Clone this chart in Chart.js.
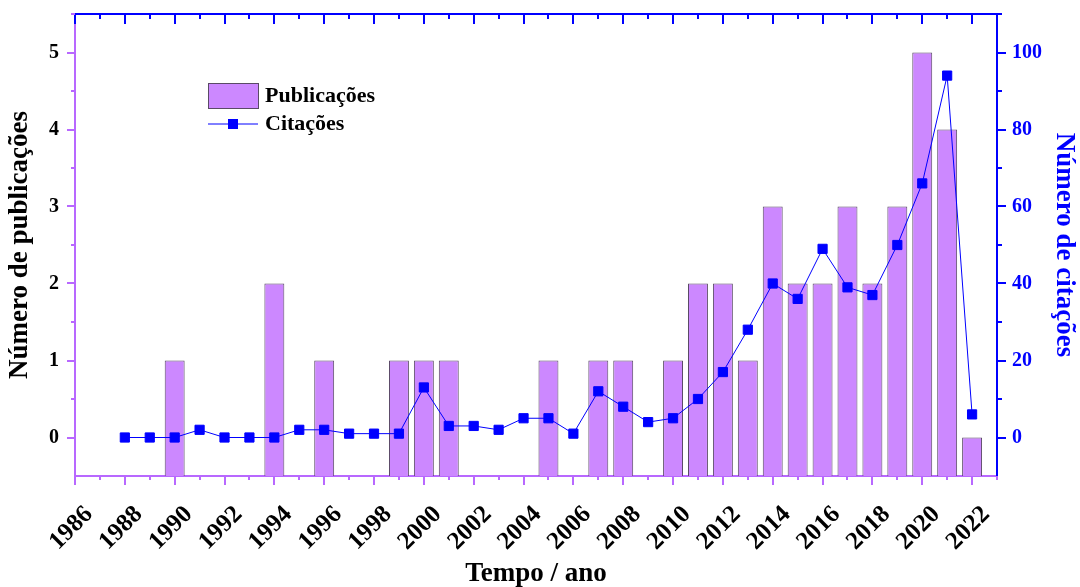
<!DOCTYPE html>
<html lang="pt">
<head>
    <meta charset="UTF-8">
    <title>Publicações e citações</title>
    <script src="https://cdn.jsdelivr.net/npm/chart.js"></script>
    <style>
        body { margin: 0; background: #fff; }
    </style>
</head>
<body>
    <canvas id="chart" width="1080" height="587"></canvas>

    <script>
        // dados
        const pubYears  = [1990, 1994, 1996, 1999, 2000, 2001, 2005, 2007, 2008, 2010, 2011, 2012, 2013, 2014, 2015, 2016, 2017, 2018, 2019, 2020, 2021, 2022];
        const pubValues = [1,    2,    1,    1,    1,    1,    1,    1,    1,    1,    2,    2,    1,    3,    2,    2,    3,    2,    3,    5,    4,    0];

        const citYears  = [1988, 1989, 1990, 1991, 1992, 1993, 1994, 1995, 1996, 1997, 1998, 1999, 2000, 2001, 2002, 2003, 2004, 2005,
                           2006, 2007, 2008, 2009, 2010, 2011, 2012, 2013, 2014, 2015, 2016, 2017, 2018, 2019, 2020, 2021, 2022];
        const citValues = [0,    0,    0,    2,    0,    0,    0,    2,    2,    1,    1,    1,    13,   3,    3,    2,    5,    5,
                           1,    12,   8,    4,    5,    10,   17,   28,   40,   36,   49,   39,   37,   50,   66,   94,   6];

        const xTicks = [1986, 1988, 1990, 1992, 1994, 1996, 1998, 2000, 2002, 2004, 2006, 2008, 2010,
                        2012, 2014, 2016, 2018, 2020, 2022];
        const pubTicks = [0, 1, 2, 3, 4, 5];
        const citTicks = [0, 20, 40, 60, 80, 100];

        const purple = '#B868FF';
        const blue = '#0000FF';
        const serif = 'Liberation Serif';

        Chart.defaults.font.family = serif;
        Chart.defaults.font.weight = 'bold';
        Chart.defaults.color = '#000';

        function useTicks(list) {
            return scale => {
                scale.ticks = list.map(v => ({ value: v }));
            };
        }

        // tamanho fixo dos eixos, sem o espaço extra para os rótulos
        function fixWidth(w) {
            return s => { s.width = w; s.paddingTop = 0; s.paddingBottom = 0; };
        }

        // ticks menores, eixo de cima e legenda
        const frame = {
            id: 'frame',
            afterDraw(chart) {
                const ctx = chart.ctx;
                const a = chart.chartArea;
                const x = chart.scales.x, y = chart.scales.y, y1 = chart.scales.y1;
                ctx.save();
                ctx.lineWidth = 2;

                // eixo de cima
                ctx.strokeStyle = blue;
                ctx.beginPath();
                ctx.moveTo(a.left - 2, a.top);
                ctx.lineTo(a.right + 1, a.top);
                ctx.stroke();
                for (let yr = 1986; yr <= 2023; yr++) {
                    const px = Math.round(x.getPixelForValue(yr));
                    const len = yr % 2 === 0 ? 10 : 5;
                    ctx.beginPath();
                    ctx.moveTo(px, a.top);
                    ctx.lineTo(px, a.top + len);
                    ctx.stroke();
                }

                // ticks menores embaixo
                ctx.strokeStyle = purple;
                for (let yr = 1987; yr <= 2023; yr += 2) {
                    const px = Math.round(x.getPixelForValue(yr));
                    ctx.beginPath();
                    ctx.moveTo(px, a.bottom);
                    ctx.lineTo(px, a.bottom + 4);
                    ctx.stroke();
                }
                // ticks menores à esquerda
                for (let v = 0.5; v <= 5.5; v += 1) {
                    const py = Math.round(y.getPixelForValue(v));
                    ctx.beginPath();
                    ctx.moveTo(a.left, py);
                    ctx.lineTo(a.left - 4, py);
                    ctx.stroke();
                }
                // ticks menores à direita
                ctx.strokeStyle = blue;
                for (let v = 10; v <= 110; v += 20) {
                    const py = Math.round(y1.getPixelForValue(v));
                    ctx.beginPath();
                    ctx.moveTo(a.right, py);
                    ctx.lineTo(a.right + 5, py);
                    ctx.stroke();
                }

                // legenda
                const lx = a.left + 133, ly = a.top + 69;
                ctx.fillStyle = '#CC88FF';
                ctx.fillRect(lx, ly, 50, 25);
                ctx.lineWidth = 1;
                ctx.strokeStyle = '#5a4a66';
                ctx.strokeRect(lx + 0.5, ly + 0.5, 50, 25);

                ctx.strokeStyle = blue;
                ctx.beginPath();
                ctx.moveTo(lx, ly + 41);
                ctx.lineTo(lx + 50, ly + 41);
                ctx.stroke();
                ctx.fillStyle = blue;
                ctx.fillRect(lx + 20, ly + 36, 10, 10);

                ctx.fillStyle = '#000';
                ctx.font = 'bold 22px ' + serif;
                ctx.textBaseline = 'middle';
                ctx.textAlign = 'left';
                ctx.fillText('Publicações', lx + 57, ly + 13);
                ctx.fillText('Citações', lx + 57, ly + 41);
                ctx.restore();
            }
        };

        new Chart(document.getElementById('chart'), {
            data: {
                datasets: [
                    {
                        type: 'line',
                        label: 'Citações',
                        yAxisID: 'y1',
                        data: citYears.map((yr, i) => ({ x: yr, y: citValues[i] })),
                        borderColor: blue,
                        borderWidth: 1,
                        backgroundColor: blue,
                        pointStyle: 'rect',
                        pointRadius: 6.5,
                        pointBorderWidth: 1,
                        tension: 0
                    },
                    {
                        type: 'bar',
                        label: 'Publicações',
                        yAxisID: 'y',
                        data: pubYears.map((yr, i) => ({ x: yr, y: pubValues[i] })),
                        base: -0.5,
                        backgroundColor: '#CC88FF',
                        borderColor: '#5a4a66',
                        borderWidth: 1,
                        categoryPercentage: 1,
                        barPercentage: 0.8
                    }
                ]
            },
            options: {
                responsive: false,
                animation: false,
                devicePixelRatio: 1,
                layout: { padding: { top: 14, left: 0, right: 0, bottom: 0 } },
                plugins: {
                    legend: { display: false },
                    tooltip: { enabled: false }
                },
                scales: {
                    x: {
                        type: 'linear',
                        position: 'bottom',
                        offset: false,
                        min: 1986,
                        max: 2023,
                        afterBuildTicks: useTicks(xTicks),
                        afterFit: s => { s.height = 111; s.paddingLeft = 0; s.paddingRight = 0; },
                        grid: { drawOnChartArea: false, offset: false, color: purple, tickLength: 9, lineWidth: 2 },
                        border: { color: purple, width: 2 },
                        ticks: {
                            autoSkip: false,
                            minRotation: 45,
                            maxRotation: 45,
                            padding: 15,
                            labelOffset: 14,
                            font: { size: 25 },
                            color: '#000',
                            callback: v => String(v)
                        },
                        title: { display: true, text: 'Tempo / ano', font: { size: 27 }, color: '#000', padding: { top: 0, bottom: -3 } }
                    },
                    y: {
                        position: 'left',
                        min: -0.5,
                        max: 5.5,
                        afterBuildTicks: useTicks(pubTicks),
                        afterFit: fixWidth(75),
                        grid: { drawOnChartArea: false, color: purple, tickLength: 8, lineWidth: 2 },
                        border: { color: purple, width: 2 },
                        ticks: { padding: 8, font: { size: 20 }, color: '#000', callback: v => String(v) },
                        title: { display: true, text: 'Número de publicações', font: { size: 27 }, color: '#000', padding: { top: 4, bottom: 0 } }
                    },
                    y1: {
                        position: 'right',
                        min: -10,
                        max: 110,
                        afterBuildTicks: useTicks(citTicks),
                        afterFit: fixWidth(83),
                        grid: { drawOnChartArea: false, color: blue, tickLength: 9, lineWidth: 2 },
                        border: { color: blue, width: 2 },
                        ticks: { padding: 6, font: { size: 20 }, color: blue, callback: v => String(v) },
                        title: { display: true, text: 'Número de citações', font: { size: 27 }, color: blue, padding: { top: 0, bottom: 4 } }
                    }
                }
            },
            plugins: [frame]
        });
    </script>
</body>
</html>
